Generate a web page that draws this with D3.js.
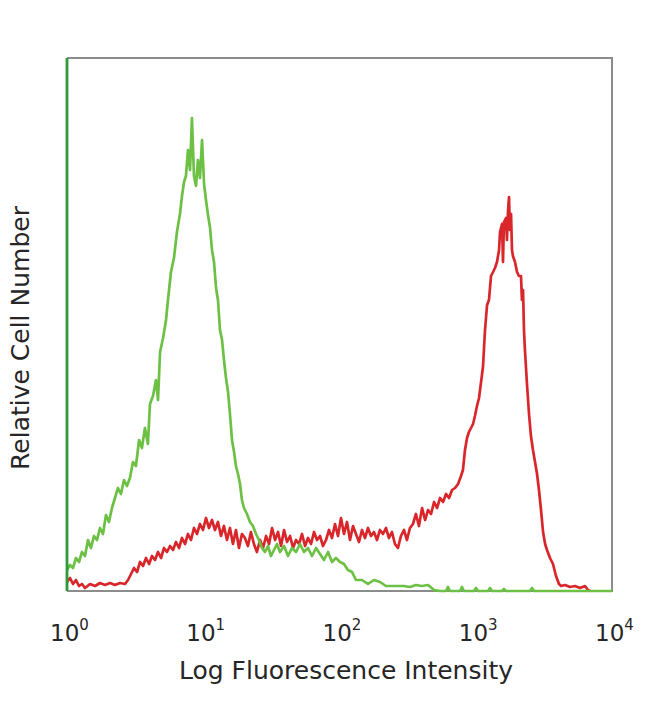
<!DOCTYPE html>
<html>
<head>
<meta charset="utf-8">
<script src="https://cdn.jsdelivr.net/npm/d3@7"></script>
<style>
  html, body { margin: 0; padding: 0; background: #fff; }
  svg { display: block; }
  text { font-family: "DejaVu Sans", sans-serif; fill: #262626; }
</style>
</head>
<body>
<svg id="chart" width="650" height="704"></svg>
<script>
// ---- data (log10 intensity, events per channel) ----
const xTickValues = [1, 10, 100, 1000, 10000];
const xTickExponents = ["0", "1", "2", "3", "4"];
const xTitle = "Log Fluorescence Intensity";
const yTitle = "Relative Cell Number";

const greenHist = [
  [0.000,21],[0.022,26],[0.044,23],[0.066,33],[0.088,29],[0.110,39],[0.132,35],[0.154,51],
  [0.176,43],[0.198,55],[0.220,51],[0.242,63],[0.264,57],[0.286,76],[0.308,69],[0.330,83],
  [0.352,93],[0.374,103],[0.396,97],[0.418,111],[0.440,105],[0.462,113],[0.484,129],[0.506,125],
  [0.529,151],[0.550,143],[0.572,163],[0.594,147],[0.609,187],[0.631,195],[0.653,211],[0.668,191],
  [0.683,239],[0.705,253],[0.727,271],[0.741,291],[0.763,319],[0.785,333],[0.807,359],[0.829,377],
  [0.844,395],[0.859,409],[0.873,415],[0.888,441],[0.903,421],[0.917,473],[0.932,415],[0.947,405],
  [0.961,431],[0.976,413],[0.991,451],[1.006,407],[1.020,391],[1.035,376],[1.050,363],[1.064,341],
  [1.079,329],[1.094,303],[1.108,291],[1.123,261],[1.138,251],[1.152,231],[1.167,213],[1.182,199],
  [1.196,177],[1.211,151],[1.226,139],[1.240,125],[1.255,117],[1.270,107],[1.284,91],[1.299,83],
  [1.321,77],[1.343,69],[1.365,65],[1.387,57],[1.409,51],[1.431,43],[1.453,39],[1.475,45],
  [1.497,35],[1.519,41],[1.541,47],[1.563,39],[1.593,45],[1.622,35],[1.651,43],[1.681,39],
  [1.710,47],[1.739,39],[1.769,43],[1.798,35],[1.828,43],[1.857,37],[1.886,31],[1.916,39],
  [1.945,29],[1.974,33],[2.004,29],[2.033,27],[2.062,21],[2.092,19],[2.121,11],[2.165,11],
  [2.209,7],[2.253,11],[2.297,9],[2.341,5],[2.385,5],[2.429,5],[2.473,5],[2.517,4],
  [2.561,6],[2.606,5],[2.650,6],[2.694,1],[2.738,0],[2.782,0],[2.796,4],[2.811,0],
  [2.884,0],[2.899,4],[2.914,0],[2.987,0],[3.002,3],[3.017,0],[3.090,0],[3.105,3],
  [3.119,0],[3.193,0],[3.207,2],[3.222,0],[3.398,0],[3.413,3],[3.428,0],[4.000,0]
];

const redHist = [
  [0.000,9],[0.022,13],[0.044,7],[0.066,11],[0.088,5],[0.110,7],[0.132,3],[0.169,7],
  [0.206,5],[0.242,8],[0.279,6],[0.316,8],[0.352,6],[0.389,8],[0.426,7],[0.448,11],
  [0.470,17],[0.492,23],[0.514,19],[0.536,29],[0.558,25],[0.580,33],[0.602,27],[0.624,35],
  [0.646,31],[0.668,39],[0.690,33],[0.712,43],[0.734,39],[0.756,45],[0.778,41],[0.800,49],
  [0.822,43],[0.844,53],[0.866,47],[0.888,57],[0.910,51],[0.932,63],[0.954,57],[0.976,67],
  [0.998,61],[1.020,73],[1.042,63],[1.064,71],[1.086,61],[1.108,69],[1.130,55],[1.152,65],
  [1.174,51],[1.196,63],[1.218,47],[1.240,61],[1.262,43],[1.284,57],[1.306,53],[1.328,45],
  [1.350,59],[1.372,47],[1.394,39],[1.417,51],[1.439,43],[1.461,55],[1.483,47],[1.505,63],
  [1.527,51],[1.549,59],[1.571,45],[1.593,61],[1.615,49],[1.637,55],[1.659,43],[1.681,51],
  [1.703,47],[1.725,57],[1.747,45],[1.769,53],[1.791,47],[1.813,59],[1.835,51],[1.857,55],
  [1.879,45],[1.901,51],[1.923,61],[1.945,53],[1.967,67],[1.989,55],[2.011,73],[2.033,57],
  [2.055,69],[2.077,51],[2.099,65],[2.121,57],[2.143,49],[2.165,61],[2.187,53],[2.209,63],
  [2.231,55],[2.253,59],[2.275,51],[2.297,61],[2.319,57],[2.341,63],[2.363,53],[2.385,59],
  [2.407,47],[2.429,43],[2.451,55],[2.473,61],[2.495,51],[2.517,63],[2.539,67],[2.561,77],
  [2.583,65],[2.606,83],[2.628,71],[2.650,81],[2.672,77],[2.694,89],[2.716,83],[2.738,93],
  [2.760,89],[2.782,97],[2.804,93],[2.826,101],[2.848,103],[2.870,107],[2.892,115],[2.906,121],
  [2.921,141],[2.936,153],[2.950,159],[2.965,163],[2.980,167],[2.994,175],[3.009,185],[3.024,193],
  [3.039,209],[3.053,224],[3.068,261],[3.083,286],[3.097,291],[3.112,315],[3.127,319],[3.141,323],
  [3.156,329],[3.171,341],[3.178,359],[3.193,367],[3.200,329],[3.207,369],[3.222,373],[3.229,351],
  [3.237,381],[3.244,394],[3.251,361],[3.259,377],[3.266,341],[3.273,335],[3.288,329],[3.303,319],
  [3.317,315],[3.332,315],[3.339,291],[3.347,301],[3.354,261],[3.361,241],[3.376,207],[3.391,177],
  [3.405,155],[3.420,141],[3.435,129],[3.450,117],[3.464,101],[3.479,81],[3.494,59],[3.509,47],
  [3.523,41],[3.545,33],[3.567,27],[3.589,15],[3.611,7],[3.626,5],[3.655,6],[3.692,4],
  [3.728,5],[3.765,3],[3.802,5],[3.824,1],[3.839,0]
];

// ---- layout ----
const plotLeft = 67, plotRight = 612, plotTop = 58, plotBottom = 591;
const svg = d3.select("#chart");

const x = d3.scaleLog().domain([1, 10000]).range([plotLeft, plotRight]);
const y = d3.scaleLinear().domain([0, 533]).range([plotBottom, plotTop]);

const line = d3.line()
  .x(d => x(Math.pow(10, d[0])))
  .y(d => y(d[1]));

// frame (top, right, bottom in gray)
svg.append("path")
  .attr("d", `M${plotLeft},${plotTop}H${plotRight}V${plotBottom}H${plotLeft}`)
  .attr("fill", "none")
  .attr("stroke", "#8c8c8c")
  .attr("stroke-width", 2);

// histograms
svg.append("path")
  .datum(redHist)
  .attr("d", line)
  .attr("fill", "none")
  .attr("stroke", "#d8262b")
  .attr("stroke-width", 2.7)
  .attr("stroke-linejoin", "round");

svg.append("path")
  .datum(greenHist)
  .attr("d", line)
  .attr("fill", "none")
  .attr("stroke", "#6cc144")
  .attr("stroke-width", 2.7)
  .attr("stroke-linejoin", "round");

// left axis line (green)
svg.append("line")
  .attr("x1", plotLeft).attr("x2", plotLeft)
  .attr("y1", plotTop).attr("y2", plotBottom)
  .attr("stroke", "#2f9a3c")
  .attr("stroke-width", 2.8);

// x axis labels
const xAxis = d3.axisBottom(x)
  .tickValues(xTickValues)
  .tickSize(0)
  .tickPadding(0)
  .tickFormat(() => "");
const gx = svg.append("g")
  .attr("transform", `translate(0,${plotBottom})`)
  .call(xAxis);
gx.select(".domain").remove();
gx.selectAll(".tick").each(function(d, i) {
  const t = d3.select(this).select("text")
    .attr("y", 50)
    .attr("dy", null)
    .attr("dx", 2)
    .attr("text-anchor", "middle")
    .style("font-family", '"DejaVu Sans", sans-serif')
    .style("font-size", "23px")
    .style("fill", "#262626");
  t.text(null);
  t.append("tspan").text("10");
  t.append("tspan").attr("dy", -11).style("font-size", "15px").text(xTickExponents[i]);
});

// titles
svg.append("text")
  .attr("x", 346)
  .attr("y", 679)
  .attr("text-anchor", "middle")
  .style("font-size", "25px")
  .text(xTitle);

svg.append("text")
  .attr("transform", "translate(29,338) rotate(-90)")
  .attr("text-anchor", "middle")
  .style("font-size", "25px")
  .text(yTitle);
</script>
</body>
</html>
